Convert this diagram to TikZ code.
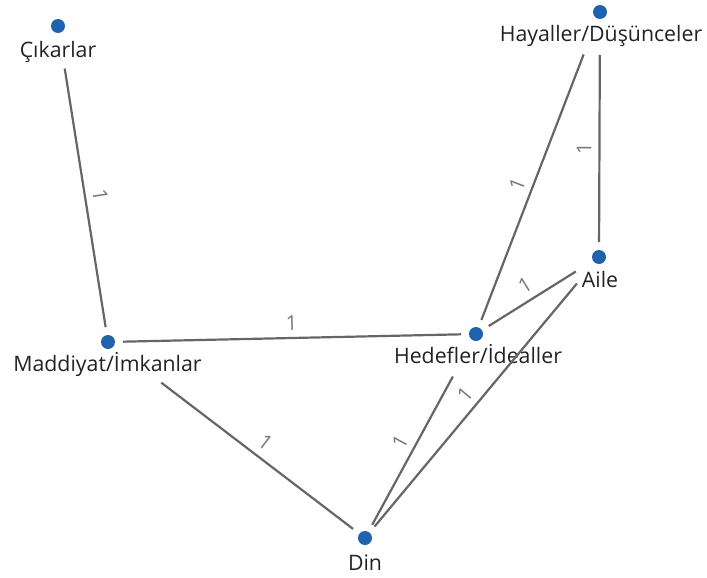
\documentclass[tikz,border=0pt]{standalone}
\usepackage{fontspec}
\setmainfont{Open Sans}
\usepackage{tikz}
\definecolor{dotblue}{HTML}{1F63AE}
\definecolor{linegrey}{HTML}{666666}
\definecolor{labelgrey}{HTML}{7A7A7A}
\definecolor{textblack}{HTML}{222222}
\tikzset{
	dot/.style={circle, fill=dotblue, minimum size=14pt, inner sep=0pt, outer sep=8pt},
	nodetext/.style={anchor=base, inner sep=0pt, text=textblack, font=\fontsize{21.3}{25}\selectfont},
	edge/.style={line width=2.2pt, color=linegrey},
	weight/.style={sloped, above=7pt, inner sep=0pt, text=labelgrey, font=\fontsize{20.5}{24}\selectfont}
}

\begin{document}
\begin{tikzpicture}[x=1pt, y=-1pt]
		%%%%% START %%%%%
		\useasboundingbox (0, 0) rectangle (707, 578);
		
		\node[dot] (ci) at (58, 26) {};
		\node[dot] (hay) at (600, 12) {};
		\node[dot] (ai) at (599, 257) {};
		\node[dot] (ma) at (108, 342) {};
		\node[dot] (hed) at (476, 334) {};
		\node[dot] (din) at (365, 538) {};
		
		\node[nodetext] (ci-t) at (58, 57.5) {Çıkarlar};
		\node[nodetext] (hay-t) at (601, 42) {Hayaller/Düşünceler};
		\node[nodetext] (ai-t) at (600, 287.5) {Aile};
		\node[nodetext] (ma-t) at (107.5, 371.5) {Maddiyat/İmkanlar};
		\node[nodetext] (hed-t) at (478, 363.5) {Hedefler/İdealler};
		\node[nodetext] (din-t) at (365, 570) {Din};
		
		\draw[edge, shorten <=28pt] (ci) -- node[weight, pos=0.547] (e1) {1} (ma);
		\draw[edge, shorten <=30.5pt] (hay) -- node[weight, pos=0.557] (e2) {1} (hed);
		\draw[edge, shorten <=28pt] (hay) -- node[weight, pos=0.564] (e3) {1} (ai);
		\draw[edge, shorten <=12.3pt] (ai) -- node[weight, pos=0.545] (e4) {1} (hed);
		\draw[edge] (ma) -- node[weight, pos=0.5] (e5) {1} (hed);
		\draw[edge, shorten <=52pt] (ma) -- node[weight, pos=0.584] (e6) {1} (din);
		\draw[edge, shorten <=33.4pt] (hed) -- node[weight, pos=0.572] (e7) {1} (din);
		\draw[edge, shorten <=19.5pt] (ai) -- node[weight, pos=0.524] (e8) {1} (din);
		
		%%%%% END %%%%%
	\end{tikzpicture}
\end{document}
